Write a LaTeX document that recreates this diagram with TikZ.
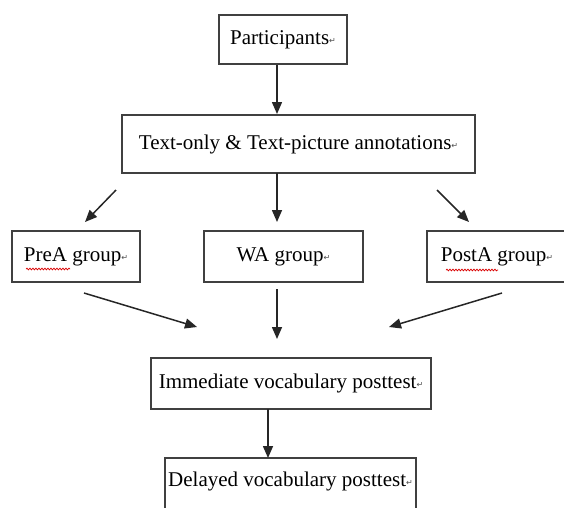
\documentclass[tikz,border=0pt]{standalone}
\usepackage{fontspec}
\setmainfont{Liberation Serif}
\newfontfamily\symfont{DejaVu Sans}
\usetikzlibrary{arrows.meta,decorations.pathmorphing}
\newcommand{\pmark}{{\symfont\fontsize{8}{8}\selectfont\color{black!70}\raisebox{1pt}{↵}}}
\begin{document}
\begin{tikzpicture}[x=1pt,y=-1pt,
  box/.style={draw=black!75, line width=1.4pt, rectangle, inner sep=0pt,
    font=\fontsize{21}{24}\selectfont, text=black},
  arr/.style={draw=black!85, line width=1.5pt, -{Triangle[length=12pt,width=10pt]}},
  wavy/.style={draw=red!85!black, line width=0.7pt, decorate,
    decoration={snake, amplitude=0.9pt, segment length=3pt}}]
\useasboundingbox (0,0) rectangle (564,507);
\clip (0,0) rectangle (564,507);
\node[box, minimum width=128pt, minimum height=49pt] (part) at (283,39.5) {Participants\pmark};
\node[box, minimum width=353pt, minimum height=58pt] (ann) at (298.5,144) {\raisebox{4pt}{Text-only \& Text-picture annotations\pmark}};
\node[box, minimum width=128pt, minimum height=51pt] (prea) at (76,256.5) {PreA group\pmark};
\node[box, minimum width=159pt, minimum height=51pt] (wa) at (283.5,256.5) {WA group\pmark};
\node[box, minimum width=140pt, minimum height=51pt] (posta) at (497,256.5) {PostA group\pmark};
\node[box, minimum width=280pt, minimum height=51pt] (imm) at (291,383.5) {Immediate vocabulary posttest\pmark};
\node[box, minimum width=251pt, minimum height=70pt, text depth=0pt] (del) at (290.5,493) {};
\node[font=\fontsize{21}{24}\selectfont, inner sep=0pt] (deltext) at (290.5,481) {Delayed vocabulary posttest\pmark};
% arrow endpoints
\coordinate (a1s) at (277,65);  \coordinate (a1e) at (277,114);
\coordinate (l1s) at (116,190); \coordinate (l1e) at (85,222);
\coordinate (m1s) at (277,173); \coordinate (m1e) at (277,222);
\coordinate (r1s) at (437,190); \coordinate (r1e) at (469,222);
\coordinate (l2s) at (84,293);  \coordinate (l2e) at (197,327);
\coordinate (m2s) at (277,289); \coordinate (m2e) at (277,339);
\coordinate (r2s) at (502,293); \coordinate (r2e) at (389,327);
\coordinate (b1s) at (268,409); \coordinate (b1e) at (268,458);
\draw[arr] (a1s) -- (a1e);
\draw[arr] (l1s) -- (l1e);
\draw[arr] (m1s) -- (m1e);
\draw[arr] (r1s) -- (r1e);
\draw[arr] (l2s) -- (l2e);
\draw[arr] (m2s) -- (m2e);
\draw[arr] (r2s) -- (r2e);
\draw[arr] (b1s) -- (b1e);
% spell-check underlines
\coordinate (w1s) at (26,269); \coordinate (w1e) at (70,269);
\coordinate (w2s) at (446,270); \coordinate (w2e) at (498,270);
\draw[wavy] (w1s) -- (w1e);
\draw[wavy] (w2s) -- (w2e);
\end{tikzpicture}
\end{document}
